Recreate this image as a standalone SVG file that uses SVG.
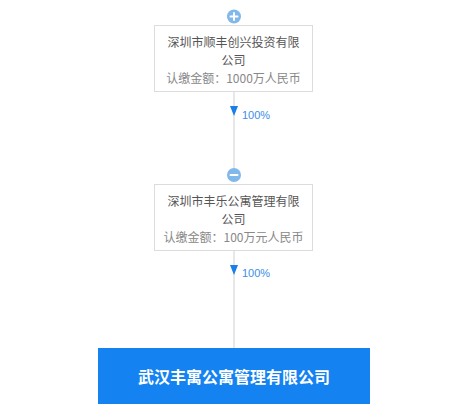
<svg xmlns="http://www.w3.org/2000/svg" width="467" height="420" viewBox="0 0 467 420">
<style>
.box{fill:#fff;stroke:#dcdcdc;stroke-width:1}
.name{font-family:"Noto Sans CJK SC","Liberation Sans",sans-serif;font-size:12px;fill:#555;text-anchor:middle}
.amt{font-family:"Noto Sans CJK SC","Liberation Sans",sans-serif;font-size:12px;fill:#888;text-anchor:middle}
.pct{font-family:"Liberation Sans","Noto Sans CJK SC",sans-serif;font-size:11px;fill:#3d8ee6}
.line{stroke:#e0e0e0;stroke-width:1.5;fill:none}
.arr{fill:#1a7fe8}
.toggle{fill:#80b8ec}
.mark{stroke:#fff;stroke-width:2;stroke-linecap:round}
</style>
<rect width="467" height="420" fill="#fff"/>
<g id="connectors">
<line class="line" x1="234" y1="92" x2="234" y2="168"/>
<path class="arr" d="M230 106 L238 106 L234 116 Z"/>
<text class="pct" x="242" y="119">100%</text>
<line class="line" x1="234" y1="251" x2="234" y2="348"/>
<path class="arr" d="M230 265 L238 265 L234 275 Z"/>
<text class="pct" x="242" y="277">100%</text>
</g>
<g id="node-shunfeng">
<circle class="toggle" cx="234" cy="16.5" r="7"/>
<line class="mark" x1="230.5" y1="16.5" x2="237.5" y2="16.5"/>
<line class="mark" x1="234" y1="13" x2="234" y2="20"/>
<rect class="box" x="154.5" y="25.5" width="158" height="66"/>
<text class="name" x="233.5" y="47">深圳市顺丰创兴投资有限</text>
<text class="name" x="233.5" y="65">公司</text>
<text class="amt" x="233.5" y="83">认缴金额：1000万人民币</text>
</g>
<g id="node-fengle">
<circle class="toggle" cx="234" cy="175" r="7"/>
<line class="mark" x1="230.5" y1="175" x2="237.5" y2="175"/>
<rect class="box" x="154.5" y="184.5" width="158" height="66"/>
<text class="name" x="233.5" y="206">深圳市丰乐公寓管理有限</text>
<text class="name" x="233.5" y="224">公司</text>
<text class="amt" x="233.5" y="242">认缴金额：100万元人民币</text>
</g>
<g id="node-wuhan">
<rect x="98" y="348" width="272" height="56" fill="#1482f0"/>
<text x="234" y="383" font-family="Noto Sans CJK SC,Liberation Sans,sans-serif" font-size="16" font-weight="bold" fill="#fff" text-anchor="middle">武汉丰寓公寓管理有限公司</text>
</g>
</svg>
